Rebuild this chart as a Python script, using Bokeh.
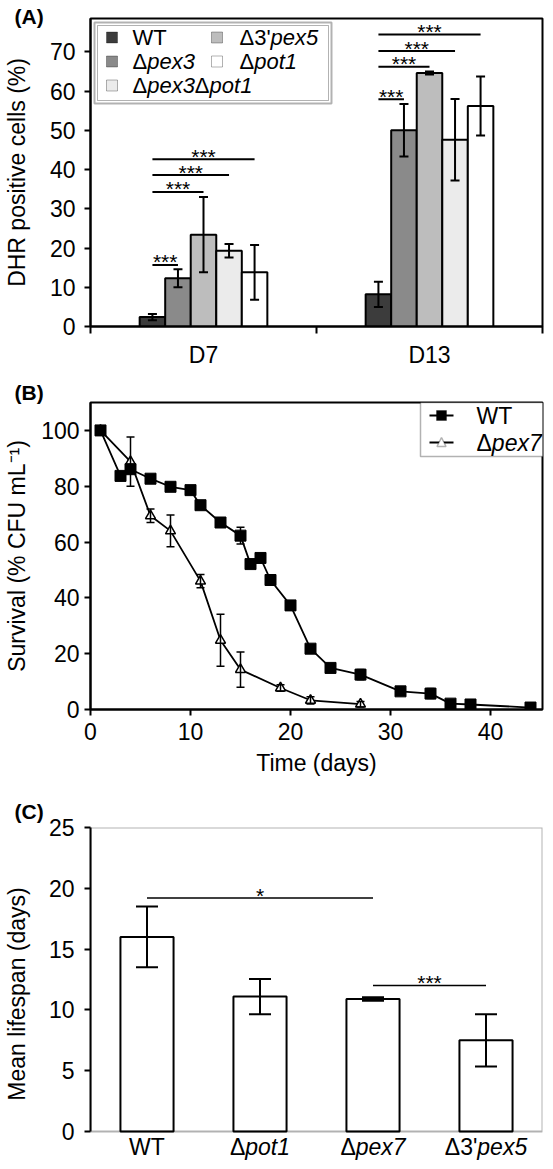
import re
from bokeh.plotting import figure
from bokeh.layouts import column
from bokeh.models import (ColumnDataSource, Whisker, TeeHead, FixedTicker, Label,
                          BoxAnnotation, PolyAnnotation, Range1d)
from bokeh.core.properties import value
from bokeh.embed import file_html
from bokeh.resources import INLINE

FONT = "Liberation Sans"

# ---------------- data ----------------
# (A) DHR positive cells
timepoints_a = ["D7", "D13"]
strains_a = ["WT", "Δpex3", "Δ3'pex5", "Δpex3Δpot1", "Δpot1"]
fills_a = ["#3c3c3c", "#8a8a8a", "#bdbdbd", "#ebebeb", "#ffffff"]
dhr_d7 = [2.4, 12.3, 23.4, 19.3, 13.8]
dhr_d7_err = [0.8, 2.3, 9.6, 1.7, 7.0]
dhr_d13 = [8.2, 50.0, 64.6, 47.6, 56.2]
dhr_d13_err = [3.2, 6.7, 0.4, 10.4, 7.5]
sig_a_time = [0, 0, 0, 0, 1, 1, 1, 1]
sig_a_from = [0, 0, 0, 0, 0, 0, 0, 0]
sig_a_to = [1, 2, 3, 4, 1, 2, 3, 4]
sig_a_level = [15.7, 34.3, 38.6, 42.6, 57.9, 66.2, 70.2, 74.4]
sig_a_text = ["***"] * 8
yticks_a = [0, 10, 20, 30, 40, 50, 60, 70]

# (B) survival
wt_days = [1, 3, 4, 6, 8, 10, 11, 13, 15, 16, 17, 18, 20, 22, 24, 27, 31, 34, 36, 38, 44]
wt_surv = [100, 83.7, 86.1, 82.7, 79.8, 78.6, 73.2, 67.0, 62.3, 52.1, 54.3, 46.4, 37.3,
           21.8, 14.9, 12.5, 6.5, 5.7, 2.1, 1.8, 0.7]
wt_err = [0, 0.8, 1.0, 0.8, 0.8, 0.8, 1.0, 0.8, 3.0, 1.0, 0.8, 1.0, 1.5,
          1.0, 1.0, 1.8, 1.0, 1.8, 1.0, 0.8, 0.5]
pex7_days = [1, 4, 6, 8, 11, 13, 15, 19, 22, 27]
pex7_surv = [100, 88.8, 69.4, 64.0, 46.0, 24.8, 14.3, 7.7, 3.3, 1.9]
pex7_err = [0, 8.8, 2.4, 5.7, 2.4, 9.3, 6.3, 1.2, 1.3, 1.0]
series_b = ["WT", "Δpex7"]
xticks_b = [0, 10, 20, 30, 40]
yticks_b = [0, 20, 40, 60, 80, 100]

# (C) mean lifespan
strains_c = ["WT", "Δpot1", "Δpex7", "Δ3'pex5"]
lifespan = [16.0, 11.1, 10.9, 7.5]
lifespan_err = [2.5, 1.45, 0.15, 2.15]
sig_c_from = [0, 2]
sig_c_to = [2, 3]
sig_c_level = [19.2, 12.0]
sig_c_text = ["*", "***"]
yticks_c = [0, 5, 10, 15, 20, 25]

# ---------------- helpers ----------------
ADV = {"Δ": 0.667, "W": 0.944, "T": 0.611, "'": 0.191, "p": 0.556, "e": 0.556,
       "x": 0.5, "o": 0.556, "t": 0.278}


def adv(s):
    return sum(ADV.get(c, 0.556) for c in s)


def segments(name):
    parts = re.split(r"(p(?:ex|ot)\d)", name)
    return [(s, "italic" if re.fullmatch(r"p(?:ex|ot)\d", s) else "normal")
            for s in parts if s]


def rich(p, x, y, name, size, x_units="screen", y_units="screen", align="left",
         baseline="middle", y_offset=0):
    segs = segments(name)
    total = sum(adv(t) for t, _ in segs) * size
    off = 0 if align == "left" else -total / 2
    for t, st in segs:
        p.add_layout(Label(x=x, y=y, x_units=x_units, y_units=y_units, x_offset=off,
                           y_offset=y_offset, text=t, text_font=FONT,
                           text_font_size=f"{size}px", text_font_style=st,
                           text_align="left", text_baseline=baseline,
                           text_color="black"))
        off += adv(t) * size


def panel_letter(p, standoff):
    p.title.align = "left"
    p.title.offset = -76
    p.title.standoff = standoff
    p.title.text_font = FONT
    p.title.text_font_size = "21px"
    p.title.text_font_style = "bold"
    p.title.text_color = "black"
    p.title.vertical_align = "bottom"


def style(p, ylabel, xlabel=None, ystand=9, ylab_stand=10):
    p.xgrid.visible = False
    p.ygrid.visible = False
    p.outline_line_color = "black"
    p.outline_line_width = 2
    p.background_fill_color = "white"
    p.border_fill_color = "white"
    for ax in (p.xaxis[0], p.yaxis[0]):
        ax.axis_line_width = 2
        ax.major_tick_line_width = 2
        ax.minor_tick_line_width = 2
        ax.major_tick_in = 0
        ax.minor_tick_in = 0
        ax.minor_tick_out = 0
        ax.major_label_text_font = FONT
        ax.major_label_text_font_size = "23px"
        ax.major_label_text_color = "black"
        ax.axis_label_text_font = FONT
        ax.axis_label_text_font_size = "23px"
        ax.axis_label_text_font_style = "normal"
        ax.axis_label_text_color = "black"
    p.yaxis[0].axis_label = ylabel
    p.yaxis[0].major_tick_out = 6
    p.yaxis[0].major_label_standoff = ystand
    p.yaxis[0].axis_label_standoff = ylab_stand
    if xlabel:
        p.xaxis[0].axis_label = xlabel


W = 544
FW = 459

# ---------------- panel A ----------------
FH_A = 308
pA = figure(width=W, height=374, x_range=Range1d(0, 2), y_range=Range1d(0, 78.5),
            title="(A)", output_backend="svg", toolbar_location=None,
            min_border_left=83, min_border_right=2, min_border_top=18, min_border_bottom=48)
style(pA, "DHR positive cells (%)", ystand=9, ylab_stand=17)
panel_letter(pA, -18)
pA.yaxis[0].ticker = FixedTicker(ticks=yticks_a)
pA.xaxis[0].ticker = FixedTicker(ticks=[0.5, 1.5], minor_ticks=[0, 1, 2])
pA.xaxis[0].major_label_overrides = {0.5: timepoints_a[0], 1.5: timepoints_a[1]}
pA.xaxis[0].major_tick_out = 0
pA.xaxis[0].minor_tick_out = 7
pA.xaxis[0].major_label_standoff = 8

BW = 0.113
bx, bt, bfill, bup, blo = [], [], [], [], []
for t, (vals, errs) in enumerate([(dhr_d7, dhr_d7_err), (dhr_d13, dhr_d13_err)]):
    for i, (v, e) in enumerate(zip(vals, errs)):
        bx.append(t + 0.5 + (i - 2) * BW)
        bt.append(v)
        bfill.append(fills_a[i])
        bup.append(v + e)
        blo.append(v - e)
srcA = ColumnDataSource(dict(x=bx, top=bt, fill=bfill, upper=bup, lower=blo))
pA.vbar(x="x", top="top", width=BW, bottom=0, fill_color="fill", line_color="black",
        line_width=2, source=srcA)
pA.add_layout(Whisker(source=srcA, base="x", upper="upper", lower="lower", line_width=2,
                      line_color="black", level="annotation",
                      upper_head=TeeHead(size=9, line_width=2, line_color="black"),
                      lower_head=TeeHead(size=9, line_width=2, line_color="black")))

sx0 = [t + 0.5 + (a - 2) * BW for t, a in zip(sig_a_time, sig_a_from)]
sx1 = [t + 0.5 + (b - 2) * BW for t, b in zip(sig_a_time, sig_a_to)]
pA.segment(x0=sx0, y0=sig_a_level, x1=sx1, y1=sig_a_level, line_color="black", line_width=2)
pA.text(x=[(a + b) / 2 for a, b in zip(sx0, sx1)], y=sig_a_level, text=sig_a_text,
        text_font=value(FONT), text_font_size="21px", text_align="center",
        text_baseline="alphabetic", y_offset=-3, text_color="black")

# legend A (manual, to keep gene names in italics)
pA.add_layout(BoxAnnotation(left=4, right=241, top=FH_A - 4, bottom=FH_A - 85,
                            left_units="screen", right_units="screen",
                            top_units="screen", bottom_units="screen",
                            fill_color="white", fill_alpha=1, line_color="black",
                            line_width=2, level="annotation"))
pA.add_layout(BoxAnnotation(left=7, right=238, top=FH_A - 7, bottom=FH_A - 82,
                            left_units="screen", right_units="screen",
                            top_units="screen", bottom_units="screen",
                            fill_alpha=0, line_color="black", line_width=1,
                            level="annotation"))
legend_col = [0, 0, 1, 0, 1]
legend_row = [0, 1, 0, 2, 1]
sw_x = [16, 121]
tx_x = [42, 149]
row_y = [FH_A - 19, FH_A - 43, FH_A - 67]
for i, name in enumerate(strains_a):
    c, r = legend_col[i], legend_row[i]
    pA.add_layout(BoxAnnotation(left=sw_x[c], right=sw_x[c] + 11, top=row_y[r] + 5.5,
                                bottom=row_y[r] - 5.5, left_units="screen",
                                right_units="screen", top_units="screen",
                                bottom_units="screen", fill_color=fills_a[i], fill_alpha=1,
                                line_color="black", line_width=1, level="annotation"))
    rich(pA, tx_x[c], row_y[r], name, 22)

# ---------------- panel B ----------------
FH_B = 307
pB = figure(width=W, height=416, x_range=Range1d(0, 45.2), y_range=Range1d(0, 110),
            title="(B)", output_backend="svg", toolbar_location=None,
            min_border_left=83, min_border_right=2, min_border_top=28, min_border_bottom=81)
style(pB, "Survival (% CFU mL⁻¹)", "Time (days)", ystand=5, ylab_stand=8)
panel_letter(pB, -2)
pB.xaxis[0].ticker = FixedTicker(ticks=xticks_b)
pB.yaxis[0].ticker = FixedTicker(ticks=yticks_b)
pB.xaxis[0].major_tick_out = 6
pB.xaxis[0].major_label_standoff = 7
pB.xaxis[0].axis_label_standoff = 7

srcW = ColumnDataSource(dict(x=wt_days, y=wt_surv,
                             upper=[v + e for v, e in zip(wt_surv, wt_err)],
                             lower=[v - e for v, e in zip(wt_surv, wt_err)]))
srcP = ColumnDataSource(dict(x=pex7_days, y=pex7_surv,
                             upper=[v + e for v, e in zip(pex7_surv, pex7_err)],
                             lower=[v - e for v, e in zip(pex7_surv, pex7_err)]))
pB.line("x", "y", source=srcP, line_color="black", line_width=1.8)
pB.line("x", "y", source=srcW, line_color="black", line_width=1.8)
for s in (srcP, srcW):
    pB.add_layout(Whisker(source=s, base="x", upper="upper", lower="lower",
                          line_width=1.5, line_color="black", level="glyph",
                          upper_head=TeeHead(size=8, line_width=1.5, line_color="black"),
                          lower_head=TeeHead(size=8, line_width=1.5, line_color="black")))
pB.scatter("x", "y", source=srcP, marker="triangle", size=10, fill_color="white",
           line_color="black", line_width=1.5)
pB.scatter("x", "y", source=srcW, marker="square", size=11, fill_color="black",
           line_color="black")

# legend B
LB = FW - 129
pB.add_layout(BoxAnnotation(left=LB, right=FW, top=FH_B, bottom=FH_B - 54,
                            left_units="screen", right_units="screen",
                            top_units="screen", bottom_units="screen",
                            fill_color="white", fill_alpha=1, line_color="black",
                            line_width=1.5, level="annotation"))
ly = [FH_B - 13, FH_B - 40]
for yy in ly:
    pB.add_layout(BoxAnnotation(left=LB + 9, right=LB + 33, top=yy + 0.9, bottom=yy - 0.9,
                                left_units="screen", right_units="screen",
                                top_units="screen", bottom_units="screen",
                                fill_color="black", fill_alpha=1, line_alpha=0,
                                level="annotation"))
pB.add_layout(BoxAnnotation(left=LB + 16, right=LB + 26, top=ly[0] + 5, bottom=ly[0] - 5,
                            left_units="screen", right_units="screen",
                            top_units="screen", bottom_units="screen",
                            fill_color="black", fill_alpha=1, line_color="black",
                            level="annotation"))
pB.add_layout(PolyAnnotation(xs=[LB + 16.5, LB + 25.5, LB + 21], ys=[ly[1] - 4, ly[1] - 4, ly[1] + 5],
                             xs_units="screen", ys_units="screen", fill_color="white",
                             fill_alpha=1, line_color="black", line_width=1.5,
                             level="annotation"))
for yy, name in zip(ly, series_b):
    rich(pB, LB + 56, yy, name, 23)

# ---------------- panel C ----------------
# frame extended below y=0 so that the (mixed-style) category labels stay inside it
pC = figure(width=W, height=371, x_range=Range1d(0, 4), y_range=Range1d(-2.385, 25),
            title="(C)", output_backend="svg", toolbar_location=None,
            min_border_left=83, min_border_right=2, min_border_top=37, min_border_bottom=1)
style(pC, "Mean lifespan (days)", ystand=10, ylab_stand=16)
panel_letter(pC, 10)
pC.outline_line_color = None
pC.xaxis.visible = False
pC.yaxis[0].ticker = FixedTicker(ticks=yticks_c)
pC.yaxis[0].bounds = (0, 25)
pC.add_layout(BoxAnnotation(left=0, right=4, bottom=0, top=25, fill_alpha=0,
                            line_color="black", line_width=2, level="overlay"))
xc = [i + 0.5 for i in range(len(strains_c))]
srcC = ColumnDataSource(dict(x=xc, top=lifespan,
                             upper=[v + e for v, e in zip(lifespan, lifespan_err)],
                             lower=[v - e for v, e in zip(lifespan, lifespan_err)]))
pC.vbar(x="x", top="top", width=0.47, bottom=0, fill_color="white", line_color="black",
        line_width=2, source=srcC)
pC.add_layout(Whisker(source=srcC, base="x", upper="upper", lower="lower", line_width=2,
                      line_color="black", level="annotation",
                      upper_head=TeeHead(size=22, line_width=2, line_color="black"),
                      lower_head=TeeHead(size=22, line_width=2, line_color="black")))
cx0 = [xc[a] for a in sig_c_from]
cx1 = [xc[b] for b in sig_c_to]
pC.segment(x0=cx0, y0=sig_c_level, x1=cx1, y1=sig_c_level, line_color="black", line_width=1.5)
pC.text(x=[(a + b) / 2 for a, b in zip(cx0, cx1)], y=sig_c_level, text=sig_c_text,
        text_font=value(FONT), text_font_size="21px", text_align="center",
        text_baseline="alphabetic", y_offset=-3, text_color="black")
for x, name in zip(xc, strains_c):
    rich(pC, x, 0, name, 23, x_units="data", y_units="data", align="center",
         baseline="top", y_offset=-3)

layout = column(pA, pB, pC, spacing=0)
open("out.html", "w").write(file_html(layout, INLINE))
